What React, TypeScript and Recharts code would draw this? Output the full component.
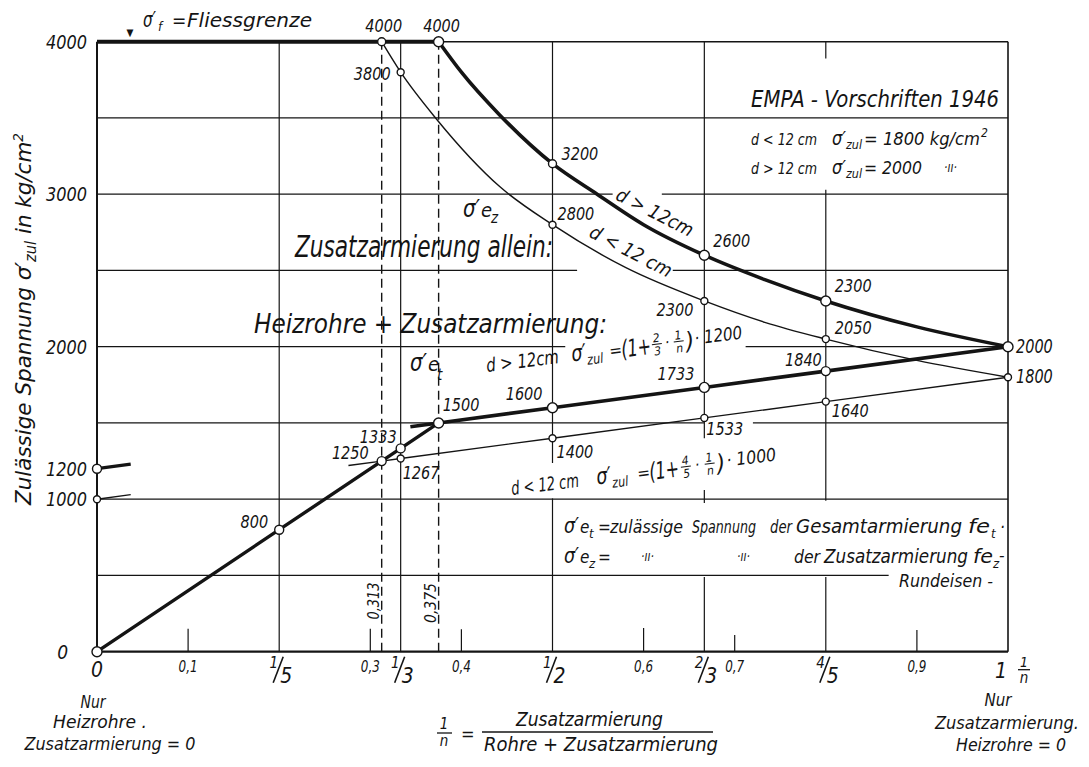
import React from 'react';
import { ComposedChart, Line, Scatter, XAxis, YAxis, ReferenceLine } from 'recharts';

const FONT = "'Liberation Sans Narrow','DejaVu Sans Condensed','Liberation Sans','DejaVu Sans',sans-serif";
const INK = '#141414';
const W = 1073;
const H = 751;

// ---------- axis ticks ----------
const xTicks = [0, 0.1, 0.2, 0.3, 1 / 3, 0.4, 0.5, 0.6, 2 / 3, 0.7, 0.8, 0.9, 1];
const xTickLabels = ['0', '0,1', '1/5', '0,3', '1/3', '0,4', '1/2', '0,6', '2/3', '0,7', '4/5', '0,9', '1'];
const yTicks = [0, 1000, 1200, 2000, 3000, 4000];
const yTickLabels = ['0', '1000', '1200', '2000', '3000', '4000'];

// ---------- series (x = 1/n, y = sigma zul in kg/cm2) ----------
const fliessgrenze = [
  { x: 0, y: 4000 },
  { x: 0.375, y: 4000 },
];
// Zusatzarmierung allein, d > 12 cm
const zusatzGross = [
  { x: 0.375, y: 4000 },
  { x: 0.4, y: 3800 },
  { x: 0.442, y: 3520 },
  { x: 0.5, y: 3200 },
  { x: 0.549, y: 3000 },
  { x: 0.6, y: 2800 },
  { x: 2 / 3, y: 2600 },
  { x: 0.733, y: 2440 },
  { x: 0.8, y: 2300 },
  { x: 0.9, y: 2130 },
  { x: 1, y: 2000 },
];
// Zusatzarmierung allein, d < 12 cm
const zusatzKlein = [
  { x: 0.3125, y: 4000 },
  { x: 1 / 3, y: 3800 },
  { x: 0.373, y: 3490 },
  { x: 0.442, y: 3050 },
  { x: 0.5, y: 2800 },
  { x: 0.58, y: 2520 },
  { x: 2 / 3, y: 2300 },
  { x: 0.733, y: 2160 },
  { x: 0.8, y: 2050 },
  { x: 0.9, y: 1910 },
  { x: 1, y: 1800 },
];
// Heizrohre + Zusatzarmierung (Gesamtarmierung), rising part
const gesamtAnstieg = [
  { x: 0, y: 0 },
  { x: 0.2, y: 800 },
  { x: 0.3125, y: 1250 },
  { x: 1 / 3, y: 1333 },
  { x: 0.375, y: 1500 },
];
// Heizrohre + Zusatzarmierung, d > 12 cm
const heizGross = [
  { x: 0.344, y: 1475 },
  { x: 0.375, y: 1500 },
  { x: 0.5, y: 1600 },
  { x: 2 / 3, y: 1733 },
  { x: 0.8, y: 1840 },
  { x: 1, y: 2000 },
];
// Heizrohre + Zusatzarmierung, d < 12 cm
const heizKlein = [
  { x: 0.276, y: 1221 },
  { x: 0.3125, y: 1250 },
  { x: 1 / 3, y: 1267 },
  { x: 0.5, y: 1400 },
  { x: 2 / 3, y: 1533 },
  { x: 0.8, y: 1640 },
  { x: 1, y: 1800 },
];
const startGross = [
  { x: 0, y: 1200 },
  { x: 0.037, y: 1230 },
];
const startKlein = [
  { x: 0, y: 1000 },
  { x: 0.037, y: 1030 },
];
// marked points with their printed values
const markedPoints = [
  { x: 0.3125, y: 4000, label: '4000' },
  { x: 0.375, y: 4000, label: '4000' },
  { x: 1 / 3, y: 3800, label: '3800' },
  { x: 0.5, y: 3200, label: '3200' },
  { x: 0.5, y: 2800, label: '2800' },
  { x: 2 / 3, y: 2600, label: '2600' },
  { x: 2 / 3, y: 2300, label: '2300' },
  { x: 0.8, y: 2300, label: '2300' },
  { x: 0.8, y: 2050, label: '2050' },
  { x: 1, y: 2000, label: '2000' },
  { x: 1, y: 1800, label: '1800' },
  { x: 0.8, y: 1840, label: '1840' },
  { x: 0.8, y: 1640, label: '1640' },
  { x: 2 / 3, y: 1733, label: '1733' },
  { x: 2 / 3, y: 1533, label: '1533' },
  { x: 0.5, y: 1600, label: '1600' },
  { x: 0.5, y: 1400, label: '1400' },
  { x: 0.375, y: 1500, label: '1500' },
  { x: 1 / 3, y: 1333, label: '1333' },
  { x: 0.3125, y: 1250, label: '1250' },
  { x: 1 / 3, y: 1267, label: '1267' },
  { x: 0.2, y: 800, label: '800' },
  { x: 0, y: 0, label: '' },
  { x: 0, y: 1200, label: '' },
  { x: 0, y: 1000, label: '' },
];

// ---------- layout (not data) ----------
type PL = { r: number; dx: number; dy: number; a: 'start' | 'middle' | 'end'; s?: number };
const pointLayout: Record<string, PL> = {
  '4000@0.313': { r: 4, dx: 2, dy: -10, a: 'middle' },
  '4000@0.375': { r: 5, dx: 3, dy: -10, a: 'middle' },
  '3800@0.333': { r: 3.5, dx: -10, dy: 8, a: 'end' },
  '3200@0.500': { r: 4, dx: 9, dy: -4, a: 'start' },
  '2800@0.500': { r: 3.5, dx: 5, dy: -5, a: 'start' },
  '2600@0.667': { r: 5, dx: 9, dy: -8, a: 'start' },
  '2300@0.667': { r: 3.5, dx: -11, dy: 15, a: 'end' },
  '2300@0.800': { r: 5, dx: 9, dy: -9, a: 'start' },
  '2050@0.800': { r: 3.5, dx: 9, dy: -5, a: 'start' },
  '2000@1.000': { r: 5, dx: 8, dy: 6, a: 'start', s: 20 },
  '1800@1.000': { r: 3.5, dx: 8, dy: 6, a: 'start', s: 19 },
  '1840@0.800': { r: 4.5, dx: -4, dy: -5, a: 'end' },
  '1640@0.800': { r: 3.5, dx: 6, dy: 15, a: 'start' },
  '1733@0.667': { r: 5, dx: -10, dy: -7, a: 'end' },
  '1533@0.667': { r: 3.5, dx: 2, dy: 17, a: 'start' },
  '1600@0.500': { r: 5, dx: -10, dy: -8, a: 'end' },
  '1400@0.500': { r: 3.5, dx: 4, dy: 20, a: 'start' },
  '1500@0.375': { r: 5, dx: 4, dy: -12, a: 'start' },
  '1333@0.333': { r: 4.5, dx: -4, dy: -5, a: 'end' },
  '1250@0.313': { r: 4.5, dx: -13, dy: -2, a: 'end' },
  '1267@0.333': { r: 3.5, dx: 2, dy: 21, a: 'start' },
  '800@0.200': { r: 4.5, dx: -11, dy: -2, a: 'end' },
  '0@0.000': { r: 5, dx: 0, dy: 0, a: 'start' },
  '1200@0.000': { r: 4.5, dx: 0, dy: 0, a: 'start' },
  '1000@0.000': { r: 3.5, dx: 0, dy: 0, a: 'start' },
};

// grid / frame segments: [x1, y1, x2, y2, strokeWidth, dashed]
const gridLayout: [number, number, number, number, number, boolean][] = [
  [0, 0, 0, 4000, 2, false],
  [0.2, 0, 0.2, 4000, 1.2, false],
  [1 / 3, 0, 1 / 3, 4000, 1.2, false],
  [0.5, 0, 0.5, 1005, 1.2, false],
  [0.5, 1237, 0.5, 4000, 1.2, false],
  [2 / 3, 0, 2 / 3, 490, 1.2, false],
  [2 / 3, 975, 2 / 3, 1060, 1.2, false],
  [2 / 3, 1400, 2 / 3, 4000, 1.2, false],
  [0.8, 0, 0.8, 490, 1.2, false],
  [0.8, 990, 0.8, 3030, 1.2, false],
  [0.8, 3890, 0.8, 4000, 1.2, false],
  [1, 0, 1, 4000, 1.6, false],
  [0.3125, 0, 0.3125, 4000, 1.4, true],
  [0.375, 0, 0.375, 4000, 1.4, true],
  [0.1, 0, 0.1, 150, 1.2, false],
  [0.3, 0, 0.3, 150, 1.2, false],
  [0.4, 0, 0.4, 148, 1.2, false],
  [0.6, 0, 0.6, 155, 1.2, false],
  [0.7, 0, 0.7, 110, 1.2, false],
  [0.9, 0, 0.9, 142, 1.2, false],
  [0, 0, 1, 0, 2.2, false],
  [0, 500, 0.869, 500, 1.2, false],
  [0, 1000, 1, 1000, 1.2, false],
  [0, 1500, 2 / 3, 1500, 1.2, false],
  [0.72, 1500, 1, 1500, 1.2, false],
  [0, 2000, 0.514, 2000, 1.2, false],
  [0.712, 2000, 1, 2000, 1.2, false],
  [0, 2500, 0.527, 2500, 1.2, false],
  [0.632, 2500, 1, 2500, 1.2, false],
  [0, 3000, 0.566, 3000, 1.2, false],
  [0.62, 3000, 1, 3000, 1.2, false],
  [0, 3500, 1, 3500, 1.2, false],
  [0, 4000, 1, 4000, 1.5, false],
];

const base = { fontFamily: FONT, fontStyle: 'italic' as const, fill: INK };

const XTick = (props: any) => {
  const { x, y, payload } = props;
  const i = xTicks.findIndex((t) => Math.abs(t - payload.value) < 1e-6);
  const lab = xTickLabels[i] ?? '';
  if (lab === '0')
    return (
      <text x={x} y={y + 25} textAnchor="middle" fontSize={21} {...base}>
        0
      </text>
    );
  if (lab === '1')
    return (
      <g>
        <text x={x - 1} y={y + 26} textAnchor="end" fontSize={21} {...base}>
          1
        </text>
        <text x={x + 16} y={y + 15} textAnchor="middle" fontSize={14} {...base}>
          1
        </text>
        <line x1={x + 10} x2={x + 22} y1={y + 18} y2={y + 18} stroke={INK} strokeWidth={1.3} />
        <text x={x + 16} y={y + 31} textAnchor="middle" fontSize={15} {...base}>
          n
        </text>
      </g>
    );
  if (lab.includes('/')) {
    const [n, d] = lab.split('/');
    return (
      <g>
        <text x={x - 1} y={y + 16} textAnchor="end" fontSize={15} {...base}>
          {n}
        </text>
        <line x1={x + 4} y1={y + 5} x2={x - 6} y2={y + 31} stroke={INK} strokeWidth={1.6} />
        <text x={x + 1} y={y + 31} textAnchor="start" fontSize={21} {...base}>
          {d}
        </text>
      </g>
    );
  }
  return (
    <text x={x} y={y + 20} textAnchor="middle" fontSize={16} textLength={19} lengthAdjust="spacingAndGlyphs" {...base}>
      {lab}
    </text>
  );
};

const YTick = (props: any) => {
  const { x, y, payload } = props;
  const i = yTicks.indexOf(payload.value);
  const lab = yTickLabels[i] ?? '';
  const zero = payload.value === 0;
  return (
    <text
      x={zero ? x - 29 : x - 10}
      y={y + 7}
      textAnchor="end"
      fontSize={19}
      textLength={zero ? undefined : 41}
      lengthAdjust={zero ? undefined : 'spacingAndGlyphs'}
      {...base}
    >
      {lab}
    </text>
  );
};

const Marker = (props: any) => {
  const { cx, cy, payload } = props;
  if (cx == null || cy == null) return <g />;
  const key = `${payload.y}@${payload.x.toFixed(3)}`;
  const L = pointLayout[key] ?? { r: 4, dx: 0, dy: 0, a: 'start' };
  return (
    <g>
      <circle cx={cx} cy={cy} r={L.r} fill="#fff" stroke={INK} strokeWidth={1.4} />
      {payload.label ? (
        <text
          x={cx + L.dx}
          y={cy + L.dy}
          textAnchor={L.a}
          fontSize={L.s ?? 17}
          textLength={payload.label.length * 9.2}
          lengthAdjust="spacingAndGlyphs"
          {...base}
        >
          {payload.label}
        </text>
      ) : null}
    </g>
  );
};

type TP = {
  x: number;
  y: number;
  s?: number;
  len?: number;
  a?: 'start' | 'middle' | 'end';
  rot?: number;
  t: string;
};
const T = ({ x, y, s = 18, len, a = 'start', rot, t }: TP) => (
  <text
    x={x}
    y={y}
    fontSize={s}
    textAnchor={a}
    textLength={len}
    lengthAdjust={len ? 'spacingAndGlyphs' : undefined}
    transform={rot ? `rotate(${rot} ${x} ${y})` : undefined}
    {...base}
  >
    {t}
  </text>
);

const Frac = ({ x, y, n, d, s = 12 }: { x: number; y: number; n: string; d: string; s?: number }) => (
  <g>
    <text x={x} y={y - 2} fontSize={s} textAnchor="middle" {...base}>
      {n}
    </text>
    <line x1={x - 5} x2={x + 5} y1={y} y2={y} stroke={INK} strokeWidth={1} />
    <text x={x} y={y + s - 1} fontSize={s} textAnchor="middle" {...base}>
      {d}
    </text>
  </g>
);

const Overlay = () => (
  <svg width={W} height={H} style={{ position: 'absolute', left: 0, top: 0, pointerEvents: 'none', overflow: 'visible' }}>
    <g transform="translate(-8,-8)">
      {/* y axis title */}
      <g transform="translate(31,505) rotate(-90)">
        <text x={0} y={0} fontSize={22} textLength={372} lengthAdjust="spacingAndGlyphs" {...base}>
          {'Zulässige Spannung σ′'}
          <tspan dy={5} fontSize={15}>
            zul
          </tspan>
          <tspan dy={-5}>{' in kg/cm'}</tspan>
          <tspan dy={-8} fontSize={14}>
            2
          </tspan>
        </text>
      </g>

      {/* top */}
      <T x={130} y={36} s={10} a="middle" t="▼" />
      <T x={143} y={27} s={21} len={13} t="σ′" />
      <T x={158} y={31} s={13} t="f" />
      <T x={172} y={27} s={19} t="=" />
      <T x={187} y={27} s={19} len={125} t="Fliessgrenze" />

      {/* EMPA block */}
      <T x={751} y={107} s={23} len={248} t="EMPA - Vorschriften 1946" />
      <T x={751} y={145} s={16} len={66} t="d < 12 cm" />
      <T x={832} y={145} s={19} len={14} t="σ′" />
      <T x={846} y={149} s={13} len={16} t="zul" />
      <T x={864} y={145} s={17} len={116} t="= 1800 kg/cm" />
      <T x={981} y={137} s={12} t="2" />
      <T x={751} y={174} s={16} len={66} t="d > 12 cm" />
      <T x={832} y={174} s={19} len={14} t="σ′" />
      <T x={846} y={178} s={13} len={16} t="zul" />
      <T x={864} y={174} s={17} len={58} t="= 2000" />
      <T x={944} y={172} s={14} len={13} t="·ıı·" />

      {/* curve labels */}
      <T x={652} y={218} s={19} len={84} a="middle" rot={27} t="d > 12cm" />
      <T x={628} y={257} s={19} len={90} a="middle" rot={27.5} t="d < 12 cm" />
      <T x={463} y={217} s={25} len={17} t="σ′" />
      <T x={481} y={217} s={20} t="e" />
      <T x={491} y={223} s={15} t="z" />
      <T x={295} y={257} s={30} len={258} t="Zusatzarmierung allein:" />
      <T x={254} y={333} s={27} len={353} t="Heizrohre + Zusatzarmierung:" />
      <T x={410} y={371} s={25} len={17} t="σ′" />
      <T x={428} y={371} s={20} t="e" />
      <T x={437} y={380} s={15} t="t" />

      {/* formula d > 12 cm */}
      <g transform="rotate(-7 487 372)">
        <T x={487} y={372} s={19} len={73} t="d > 12cm" />
        <T x={573} y={372} s={23} len={15} t="σ′" />
        <T x={588} y={377} s={14} len={16} t="zul" />
        <T x={611} y={372} s={17} t="=" />
        <T x={623} y={374} s={24} len={30} t="(1+" />
        <Frac x={659} y={365} n="2" d="3" />
        <T x={667} y={370} s={16} t="·" />
        <Frac x={681} y={365} n="1" d="n" />
        <T x={688} y={374} s={24} t=")" />
        <T x={697} y={370} s={18} len={48} t="· 1200" />
      </g>

      {/* formula d < 12 cm */}
      <g transform="rotate(-7 512 495)">
        <T x={512} y={495} s={19} len={68} t="d < 12 cm" />
        <T x={598} y={495} s={23} len={15} t="σ′" />
        <T x={613} y={500} s={14} len={16} t="zul" />
        <T x={639} y={495} s={17} t="=" />
        <T x={651} y={497} s={24} len={30} t="(1+" />
        <Frac x={688} y={488} n="4" d="5" />
        <T x={697} y={493} s={16} t="·" />
        <Frac x={712} y={488} n="1" d="n" />
        <T x={719} y={497} s={24} t=")" />
        <T x={729} y={493} s={18} len={50} t="· 1000" />
      </g>

      {/* legend block */}
      <T x={564} y={533} s={22} len={15} t="σ′" />
      <T x={580} y={533} s={17} t="e" />
      <T x={589} y={538} s={13} t="t" />
      <T x={598} y={533} s={17} t="=" />
      <T x={610} y={533} s={18} len={73} t="zulässige" />
      <T x={692} y={533} s={17} len={64} t="Spannung" />
      <T x={770} y={533} s={18} len={22} t="der" />
      <T x={796} y={533} s={19} len={166} t="Gesamtarmierung" />
      <T x={968} y={533} s={19} len={22} t="fe" />
      <T x={991} y={538} s={13} t="t" />
      <T x={1000} y={533} s={17} t="·" />

      <T x={564} y={563} s={22} len={15} t="σ′" />
      <T x={580} y={563} s={17} t="e" />
      <T x={589} y={568} s={13} t="z" />
      <T x={598} y={563} s={17} t="=" />
      <T x={641} y={561} s={14} len={13} t="·ıı·" />
      <T x={737} y={561} s={14} len={13} t="·ıı·" />
      <T x={794} y={563} s={18} len={26} t="der" />
      <T x={824} y={563} s={19} len={144} t="Zusatzarmierung" />
      <T x={973} y={563} s={19} len={20} t="fe" />
      <T x={993} y={568} s={13} t="z" />
      <T x={999} y={561} s={17} t="-" />
      <T x={899} y={587} s={18} len={94} t="Rundeisen -" />

      {/* rotated x markers */}
      <T x={379} y={601} s={15} len={37} a="middle" rot={-90} t="0,313" />
      <T x={436} y={603} s={15} len={40} a="middle" rot={-90} t="0,375" />

      {/* bottom left */}
      <T x={93} y={708} s={18} a="middle" len={25} t="Nur" />
      <T x={100} y={728} s={18} a="middle" len={94} t="Heizrohre ." />
      <T x={110} y={750} s={18} a="middle" len={171} t="Zusatzarmierung = 0" />

      {/* bottom centre */}
      <T x={444} y={729} s={15} a="middle" t="1" />
      <line x1={437} x2={452} y1={733} y2={733} stroke={INK} strokeWidth={1.3} />
      <T x={444} y={746} s={15} a="middle" t="n" />
      <T x={461} y={740} s={18} t="=" />
      <T x={516} y={726} s={19} len={147} t="Zusatzarmierung" />
      <line x1={482} x2={713} y1={732} y2={732} stroke={INK} strokeWidth={1.3} />
      <T x={484} y={751} s={19} len={234} t="Rohre + Zusatzarmierung" />

      {/* bottom right */}
      <T x={998} y={706} s={18} a="middle" len={27} t="Nur" />
      <T x={1007} y={729} s={18} a="middle" len={144} t="Zusatzarmierung." />
      <T x={1011} y={751} s={18} a="middle" len={110} t="Heizrohre = 0" />
    </g>
  </svg>
);

export default function App() {
  return (
    <div style={{ position: 'relative', width: W, height: H, background: '#fff' }}>
      <ComposedChart width={W} height={H} margin={{ top: 33.7, right: 73, bottom: 77.3, left: 0 }}>
        <XAxis
          dataKey="x"
          type="number"
          domain={[0, 1]}
          ticks={xTicks}
          interval={0}
          tick={(p: any) => <XTick {...p} />}
          tickLine={false}
          axisLine={false}
          tickSize={0}
          tickMargin={0}
          height={30}
        />
        <YAxis
          dataKey="y"
          type="number"
          domain={[0, 4000]}
          ticks={yTicks}
          interval={0}
          tick={(p: any) => <YTick {...p} />}
          tickLine={false}
          axisLine={false}
          tickSize={0}
          tickMargin={0}
          width={89}
        />
        {gridLayout.map(([x1, y1, x2, y2, w, dashed], i) => (
          <ReferenceLine
            key={`g${i}`}
            segment={[
              { x: x1, y: y1 },
              { x: x2, y: y2 },
            ]}
            stroke={INK}
            strokeWidth={w}
            strokeDasharray={dashed ? '9 5' : undefined}
            ifOverflow="visible"
          />
        ))}
        <Line data={fliessgrenze} dataKey="y" type="linear" stroke={INK} strokeWidth={4} dot={false} isAnimationActive={false} />
        <Line data={zusatzGross} dataKey="y" type="monotone" stroke={INK} strokeWidth={3.6} dot={false} isAnimationActive={false} />
        <Line data={zusatzKlein} dataKey="y" type="monotone" stroke={INK} strokeWidth={1.4} dot={false} isAnimationActive={false} />
        <Line data={gesamtAnstieg} dataKey="y" type="linear" stroke={INK} strokeWidth={3.4} dot={false} isAnimationActive={false} />
        <Line data={heizGross} dataKey="y" type="linear" stroke={INK} strokeWidth={3.6} dot={false} isAnimationActive={false} />
        <Line data={heizKlein} dataKey="y" type="linear" stroke={INK} strokeWidth={1.4} dot={false} isAnimationActive={false} />
        <Line data={startGross} dataKey="y" type="linear" stroke={INK} strokeWidth={3.2} dot={false} isAnimationActive={false} />
        <Line data={startKlein} dataKey="y" type="linear" stroke={INK} strokeWidth={1.4} dot={false} isAnimationActive={false} />
        <Scatter data={markedPoints} dataKey="y" shape={(p: any) => <Marker {...p} />} isAnimationActive={false} />
      </ComposedChart>
      <Overlay />
    </div>
  );
}
